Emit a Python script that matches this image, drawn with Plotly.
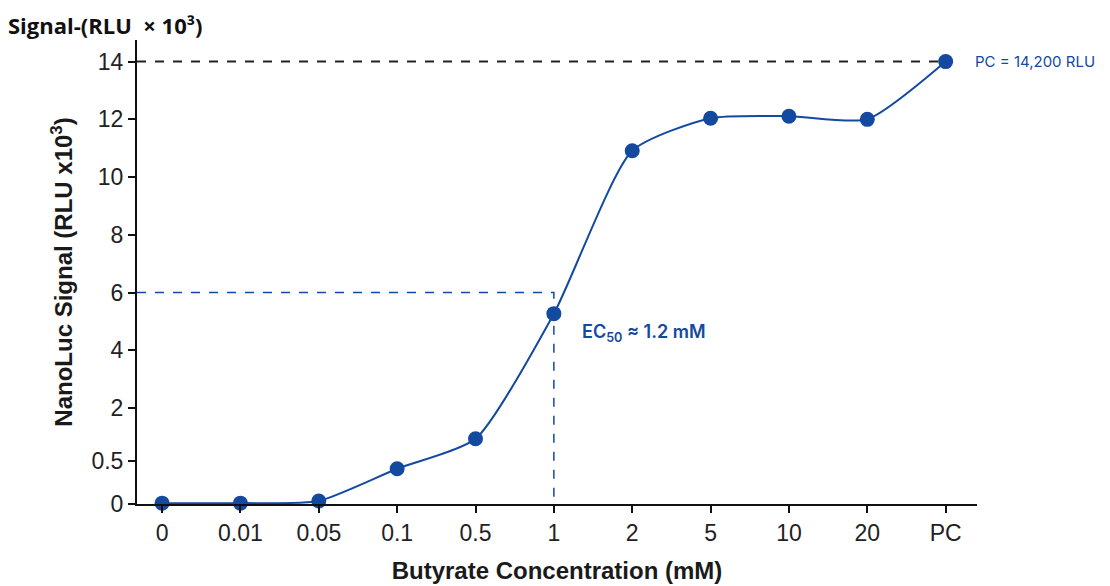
import numpy as np
import plotly.graph_objects as go

# ---- data ----
categories = ["0", "0.01", "0.05", "0.1", "0.5", "1", "2", "5", "10", "20", "PC"]
signal = [0.01, 0.01, 0.035, 0.41, 1.13, 5.27, 10.91, 12.04, 12.11, 12.0, 14.0]
y_tick_values = [0, 0.5, 2, 4, 6, 8, 10, 12, 14]
y_tick_labels = ["0", "0.5", "2", "4", "6", "8", "10", "12", "14"]
ec50_level = 6
ec50_category = "1"
pc_level = 14

# piecewise (broken) y scale used by the original figure
scale_breaks = [0, 0.5, 2, 14, 20]
scale_pos = [0, 1.49, 3.33, 15.35, 21.35]


def ymap(v):
    return np.interp(v, scale_breaks, scale_pos)


BLUE = "#1449a0"
xi = list(range(len(categories)))
ec_x = categories.index(ec50_category)
pc_x = categories.index("PC")

fig = go.Figure()

# reference lines
fig.add_trace(go.Scatter(x=[-0.32, pc_x], y=[ymap(pc_level)] * 2, mode="lines",
                         line=dict(color="#222222", width=2, dash="dash"),
                         hoverinfo="skip", showlegend=False, cliponaxis=False))
fig.add_trace(go.Scatter(x=[-0.32, ec_x, ec_x], y=[ymap(ec50_level), ymap(ec50_level), 0],
                         mode="lines", line=dict(color=BLUE, width=1.5, dash="dash"),
                         hoverinfo="skip", showlegend=False, cliponaxis=False))

# curve
fig.add_trace(go.Scatter(x=xi, y=ymap(signal), mode="lines+markers",
                         line=dict(color=BLUE, width=2, shape="spline", smoothing=0.6),
                         marker=dict(color=BLUE, size=15),
                         showlegend=False, cliponaxis=False))

FONT = "Liberation Sans, Arial, sans-serif"
AFONT = "Inter, Liberation Sans, sans-serif"

# page body has an 8px margin, so the figure is sized to fit the window
fig.update_layout(
    width=1102, height=578,
    margin=dict(l=129, r=133, t=32, b=82),
    paper_bgcolor="white", plot_bgcolor="white",
    font=dict(family=FONT, color="#111111"),
    title=dict(text="<b>Signal-(RLU  × 10³)</b>", x=0.0, xref="container", xanchor="left",
               y=0.982, yref="container", yanchor="top", pad=dict(t=0, l=0),
               font=dict(size=22, family="Open Sans, Liberation Sans, sans-serif", color="#111111")),
    xaxis=dict(
        range=[-0.32, 10.4], tickvals=xi, ticktext=categories, automargin=False,
        showgrid=False, zeroline=False, showline=True, linecolor="#111111", linewidth=2,
        ticks="outside", ticklen=7, tickwidth=1.5, tickcolor="#111111",
        tickfont=dict(size=23, family=FONT, color="#222222"),
        title=dict(text="<b>Butyrate Concentration (mM)</b>", font=dict(size=24, family=FONT, color="#1a1a1a"),
                   standoff=18),
    ),
    yaxis=dict(
        range=[0, 16.1], tickvals=list(ymap(y_tick_values)), ticktext=y_tick_labels, automargin=False,
        showgrid=False, zeroline=False, showline=True, linecolor="#111111", linewidth=2,
        ticks="outside", ticklen=7, tickwidth=1.5, tickcolor="#111111",
        tickfont=dict(size=23, family=FONT, color="#222222"),
        title=dict(text="<b>NanoLuc Signal (RLU x10<sup>3</sup>)</b>",
                   font=dict(size=24, family=FONT, color="#1a1a1a"), standoff=12),
    ),
)

fig.add_annotation(x=pc_x, y=ymap(pc_level), xref="x", yref="y", xanchor="left", yanchor="middle",
                   xshift=27, text="PC = 14,200 RLU", showarrow=False,
                   font=dict(size=15, family=AFONT, color=BLUE))
fig.add_annotation(x=ec_x, y=ymap(ec50_level) - 1.4, xref="x", yref="y", xanchor="left", yanchor="middle",
                   xshift=26, text="EC<sub>50</sub> ≈ 1.2 mM", showarrow=False,
                   font=dict(size=18, family=AFONT, color=BLUE, weight=600))

fig.write_html("out.html")
